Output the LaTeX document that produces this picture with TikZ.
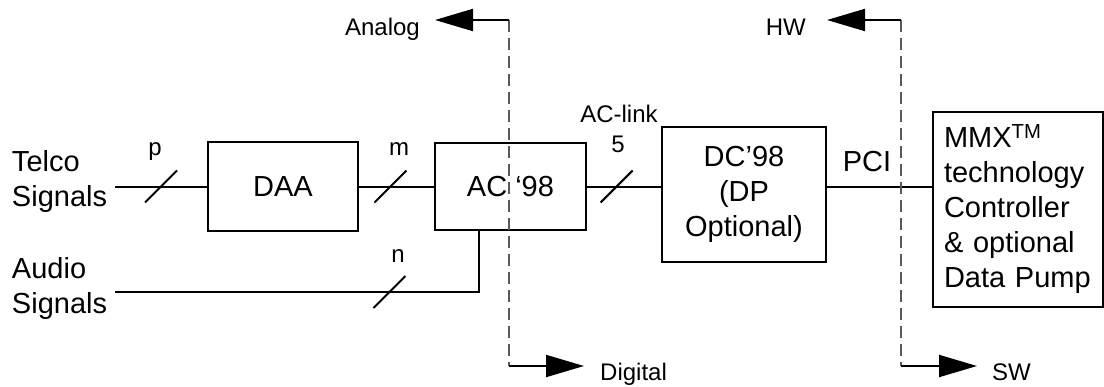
\documentclass[tikz,border=0pt]{standalone}
\usepackage{fontspec}
\setmainfont{Liberation Sans}
\usetikzlibrary{arrows.meta}
\begin{document}
\begin{tikzpicture}[x=1pt,y=-1pt,
  big/.style={font=\fontsize{29}{35}\selectfont},
  small/.style={font=\fontsize{24}{28}\selectfont},
  blk/.style={draw,line width=2pt,inner sep=0pt,big,align=center},
  wire/.style={line width=2pt},
  tick/.style={line width=2pt},
  divider/.style={draw=black!65,line width=1.4pt,dash pattern=on 12pt off 6pt},
  arr/.style={line width=2pt,-{Triangle[length=38pt,width=22pt]}},
  lbl/.style={inner sep=0pt,small},
  side/.style={inner sep=0pt,outer xsep=8pt,big,align=left,anchor=west},
]
\useasboundingbox (0,0) rectangle (1104,386);

% blocks
\node[blk,minimum width=150pt,minimum height=89pt] (daa) at (283,186.5) {DAA};
\node[blk,minimum width=151pt,minimum height=87pt] (ac) at (510.5,186.5) {AC ‘98};
\node[blk,minimum width=164pt,minimum height=135pt] (dc) at (744,194.5) {DC’98\\(DP\\Optional)};
\node[blk,minimum width=170pt,minimum height=195pt,text width=148pt,inner xsep=11pt,align=left] (mmx) at (1018,209.5)
  {MMX\textsuperscript{TM}\\technology\\Controller\\\& optional\\Data Pump};

% side texts
\node[side] (telco) at (4,181) {Telco\\Signals};
\node[side] (audio) at (4,288) {Audio\\Signals};

% bus labels
\node[lbl,anchor=base] (lp) at (155,155) {p};
\node[lbl,anchor=base] (lm) at (399,155) {m};
\node[lbl,anchor=base] (ln) at (398,262) {n};
\node[lbl,anchor=base,align=center] (llink) at (619,122) {AC-link};
\node[lbl,anchor=base] (l5) at (618,152) {5};
\node[inner sep=0pt,big,anchor=base] (pci) at (867,171) {PCI};

% connectors
\coordinate (acj) at (479,292);
\draw[wire] (telco.east |- daa.west) -- coordinate[pos=0.5] (t1) (daa.west);
\draw[wire] (daa.east) -- coordinate[pos=0.42] (t2) (ac.west);
\draw[wire] (audio.east |- acj) -- coordinate[pos=0.754] (t3) (acj) -- (acj |- ac.south);
\draw[wire] (ac.east) -- coordinate[pos=0.4] (t4) (dc.west |- ac.east);
\draw[wire] (dc.east |- ac.east) -- (mmx.west |- ac.east);

% bus ticks
\foreach \t in {t1,t2,t3,t4}
  \draw[tick] (\t) ++(-16,16) -- ++(32,-32);

% domain dividers
\coordinate (dAt) at (509,20);
\coordinate (dAb) at (509,366);
\coordinate (dHt) at (901,20);
\coordinate (dHb) at (901,366);
\coordinate (tipA) at (435,20);
\coordinate (tipD) at (584,366);
\coordinate (tipH) at (827,20);
\coordinate (tipS) at (977,366);

\draw[divider] (dAt) -- (dAb);
\draw[divider] (dHt) -- (dHb);
\draw[arr] (dAt) -- (tipA);
\draw[arr] (dAb) -- (tipD);
\draw[arr] (dHt) -- (tipH);
\draw[arr] (dHb) -- (tipS);

\node[lbl,anchor=base east] (analog) at (420,35) {Analog};
\node[lbl,anchor=base west] (digital) at (600,380) {Digital};
\node[lbl,anchor=base east] (hw) at (806,35) {HW};
\node[lbl,anchor=base west] (sw) at (992,380) {SW};
\end{tikzpicture}
\end{document}
